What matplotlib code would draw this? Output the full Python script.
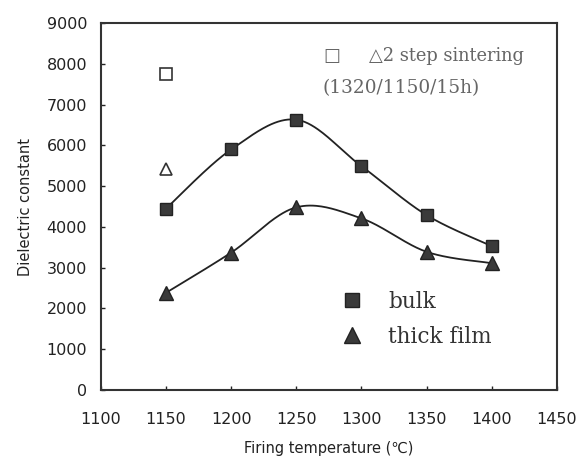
import numpy as np
import matplotlib
matplotlib.use("Agg")
import matplotlib.pyplot as plt

temps = [1150, 1200, 1250, 1300, 1350, 1400]
bulk = [4450, 5900, 6630, 5490, 4290, 3530]
thick_film = [2385, 3370, 4480, 4210, 3390, 3110]
two_step_temp = [1150]
two_step_bulk = [7745]
two_step_film = [5430]
xticks = [1100, 1150, 1200, 1250, 1300, 1350, 1400, 1450]
yticks = [0, 1000, 2000, 3000, 4000, 5000, 6000, 7000, 8000, 9000]


def smooth_curve(x, y, n=40):
    """Catmull-Rom style smoothing (as in spreadsheet 'smoothed line')."""
    p = np.column_stack([np.asarray(x, float), np.asarray(y, float)])
    pts = np.vstack([p[0], p, p[-1]])
    out = []
    t = np.linspace(0, 1, n)[:, None]
    for i in range(1, len(pts) - 2):
        p0, p1, p2, p3 = pts[i - 1], pts[i], pts[i + 1], pts[i + 2]
        c1 = p1 + (p2 - p0) / 6
        c2 = p2 - (p3 - p1) / 6
        seg = ((1 - t) ** 3) * p1 + 3 * ((1 - t) ** 2) * t * c1 \
            + 3 * (1 - t) * t ** 2 * c2 + t ** 3 * p2
        out.append(seg)
    seg = np.vstack(out)
    return seg[:, 0], seg[:, 1]


fig = plt.figure(figsize=(5.8, 4.61), dpi=100)
ax = fig.add_axes([0.174, 0.154, 0.786, 0.796])

for ys in (bulk, thick_film):
    sx, sy = smooth_curve(temps, ys)
    ax.plot(sx, sy, color="#222222", lw=1.3, zorder=2)

ax.plot(temps, bulk, ls="none", marker="s", ms=9, mfc="#3a3a3a", mec="#222222", zorder=3)
ax.plot(temps, thick_film, ls="none", marker="^", ms=10, mfc="#3a3a3a", mec="#222222", zorder=3)
ax.plot(two_step_temp, two_step_bulk, ls="none", marker="s", ms=8, mfc="white", mec="#333333", mew=1.2)
ax.plot(two_step_temp, two_step_film, ls="none", marker="^", ms=9, mfc="white", mec="#333333", mew=1.2)

ax.set_xlim(1100, 1450)
ax.set_ylim(0, 9000)
ax.set_xticks(xticks)
ax.set_yticks(yticks)
ax.tick_params(direction="in", length=3, width=1, labelsize=11.5, colors="#222222")
ax.tick_params(axis="x", pad=16)
ax.tick_params(axis="y", pad=10)
for s in ax.spines.values():
    s.set_linewidth(1.5)
    s.set_color("#333333")

ax.set_xlabel("Firing temperature (\u2103)", fontsize=10.5, color="#222222", labelpad=10)
ax.set_ylabel("Dielectric constant", fontsize=10.5, color="#222222", labelpad=10)

serif = ["DejaVu Serif"]
ax.text(0.49, 0.91, "\u25a1     \u25b32 step sintering", transform=ax.transAxes,
        fontsize=12.9, family=serif, color="#666666", va="center")
ax.text(0.487, 0.823, "(1320/1150/15h)", transform=ax.transAxes,
        fontsize=13.3, family=serif, color="#666666", va="center")

# legend
h1, = ax.plot([], [], ls="none", marker="s", ms=10, mfc="#3a3a3a", mec="#222222")
h2, = ax.plot([], [], ls="none", marker="^", ms=11, mfc="#3a3a3a", mec="#222222")
leg = ax.legend([h1, h2], ["bulk", "thick film"], loc="lower left",
                bbox_to_anchor=(0.47, 0.062), frameon=False,
                prop={"family": serif, "size": 15.5}, handletextpad=0.9,
                labelspacing=0.61, handlelength=1.6)
for t in leg.get_texts():
    t.set_color("#333333")

fig.savefig("out.png", dpi=100)
